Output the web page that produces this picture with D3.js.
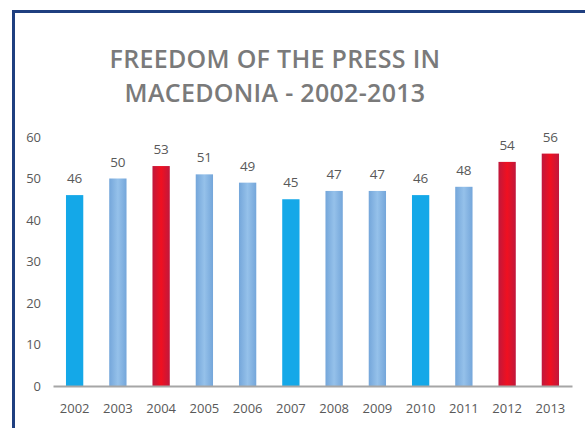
<!DOCTYPE html>
<html>
<head>
    <meta charset="utf-8">
    <title>Freedom of the press in Macedonia</title>
    <script src="https://cdn.jsdelivr.net/npm/d3@7"></script>
    <style>
        body { margin: 0; background: #fff; }
        svg text { font-family: "Open Sans", "Noto Sans", sans-serif; }
    </style>
</head>
<body>
<script>
    // data
    var years = ["2002", "2003", "2004", "2005", "2006", "2007", "2008", "2009", "2010", "2011", "2012", "2013"];
    var scores = [46, 50, 53, 51, 49, 45, 47, 47, 46, 48, 54, 56];
    // kind of bar: "bright", "light", "red"
    var kinds = ["bright", "light", "red", "light", "light", "bright", "light", "light", "bright", "light", "red", "red"];
    var yTicks = [0, 10, 20, 30, 40, 50, 60];
    var titleLines = ["FREEDOM OF THE PRESS IN", "MACEDONIA - 2002-2013"];

    var width = 585, height = 428;
    var margins = { left: 53, right: 13, top: 137, bottom: 42 };

    var svg = d3.select("body").append("svg")
        .attr("width", width)
        .attr("height", height);

    var defs = svg.append("defs");
    function grad(id, edge, mid) {
        var g = defs.append("linearGradient").attr("id", id)
            .attr("x1", "0%").attr("x2", "100%").attr("y1", "0%").attr("y2", "0%");
        g.append("stop").attr("offset", "0%").attr("stop-color", edge);
        g.append("stop").attr("offset", "50%").attr("stop-color", mid);
        g.append("stop").attr("offset", "100%").attr("stop-color", edge);
    }
    grad("g-light", "#74a6da", "#95c1ea");
    grad("g-red", "#c0183c", "#f01020");
    var fills = { bright: "#14a8e8", light: "url(#g-light)", red: "url(#g-red)" };

    // frame
    svg.append("rect")
        .attr("x", 13.5).attr("y", 11.5)
        .attr("width", 600).attr("height", 440)
        .attr("fill", "none")
        .attr("stroke", "#1f3f80")
        .attr("stroke-width", 3);

    // title
    svg.selectAll("text.title")
        .data(titleLines)
        .enter().append("text")
        .attr("class", "title")
        .attr("x", 275)
        .attr("y", function (d, i) { return 68 + i * 34; })
        .attr("text-anchor", "middle")
        .attr("fill", "#7a7a7a")
        .style("font-size", "25px")
        .style("font-weight", "600")
        .style("letter-spacing", "0.3px")
        .text(function (d) { return d; });

    var x = d3.scaleBand()
        .domain(years)
        .range([margins.left, width - margins.right])
        .paddingInner(0.6)
        .paddingOuter(0.3);

    var y = d3.scaleLinear()
        .domain([0, 60])
        .range([height - margins.bottom, margins.top]);

    // y axis labels only
    var yAxis = svg.append("g")
        .attr("transform", "translate(" + (margins.left - 12) + ",0)")
        .call(d3.axisLeft(y).tickValues(yTicks).tickSize(0).tickPadding(0));
    yAxis.select(".domain").remove();
    yAxis.selectAll("text")
        .attr("fill", "#595959")
        .style("font-size", "13px");

    // bars
    svg.selectAll("rect.bar")
        .data(scores)
        .enter().append("rect")
        .attr("class", "bar")
        .attr("x", function (d, i) { return x(years[i]); })
        .attr("y", function (d) { return y(d); })
        .attr("width", x.bandwidth())
        .attr("height", function (d) { return y(0) - y(d); })
        .attr("fill", function (d, i) { return fills[kinds[i]]; });

    // value labels
    svg.selectAll("text.val")
        .data(scores)
        .enter().append("text")
        .attr("class", "val")
        .attr("x", function (d, i) { return x(years[i]) + x.bandwidth() / 2; })
        .attr("y", function (d) { return y(d) - 12; })
        .attr("text-anchor", "middle")
        .attr("fill", "#595959")
        .style("font-size", "13.5px")
        .text(function (d) { return d; });

    // x axis
    var xAxis = svg.append("g")
        .attr("transform", "translate(0," + y(0) + ")")
        .call(d3.axisBottom(x).tickSize(0).tickPadding(18));
    xAxis.select(".domain")
        .attr("stroke", "#a6a6a6")
        .attr("stroke-width", 2);
    xAxis.selectAll("text")
        .attr("fill", "#595959")
        .style("font-size", "13px");
</script>
</body>
</html>
